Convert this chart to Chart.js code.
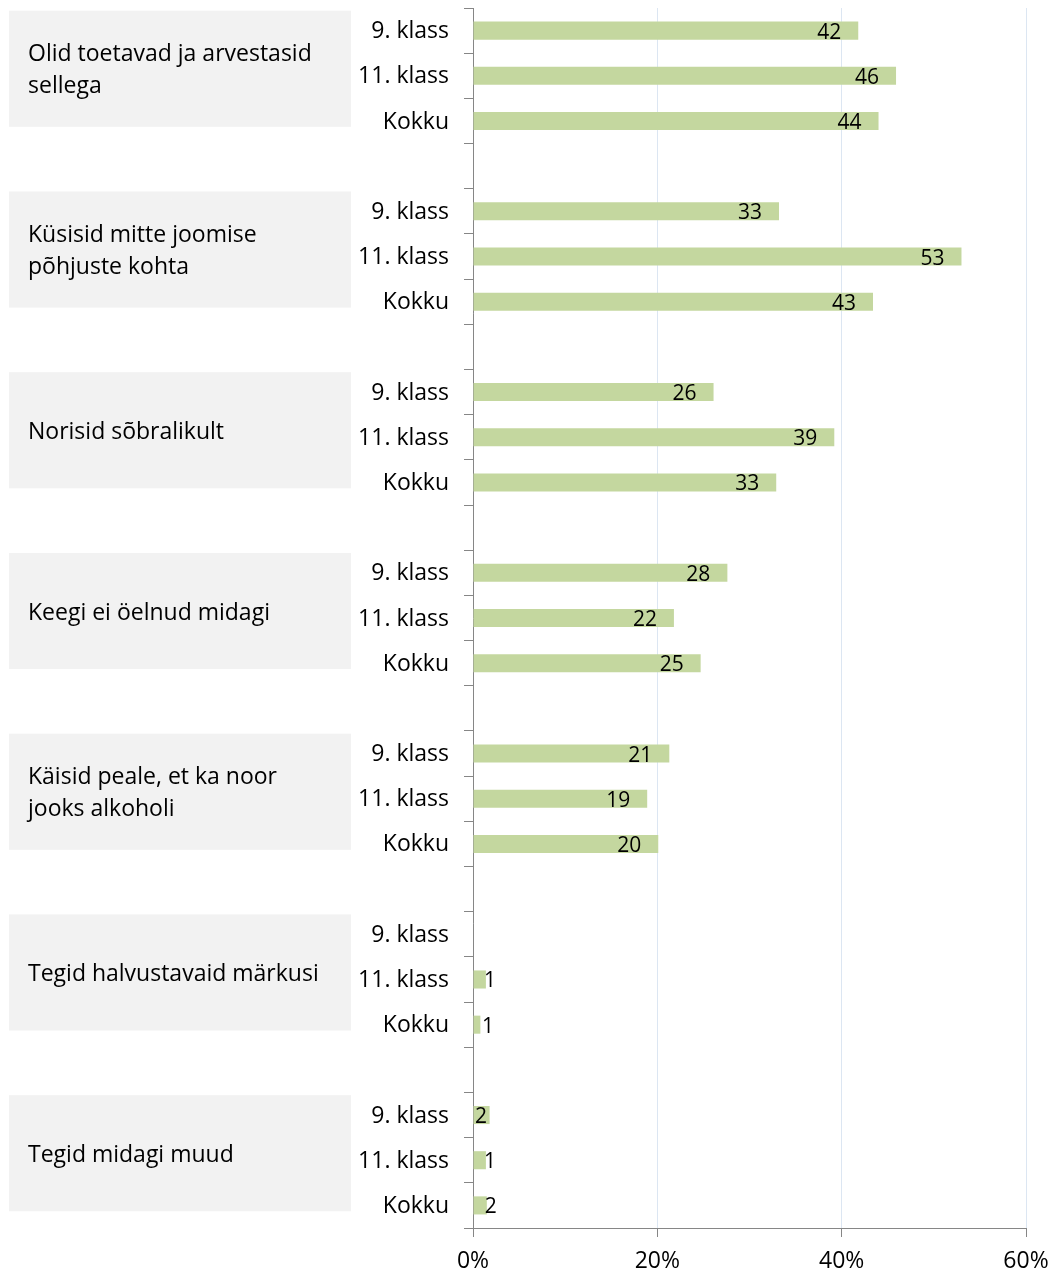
<!DOCTYPE html>
<html>
<head>
<meta charset="utf-8">
<script src="https://cdn.jsdelivr.net/npm/chart.js@4.4.0/dist/chart.umd.min.js"></script>
<style>
  body { margin: 0; background: #fff; }
  #wrap { width: 1054px; height: 1275px; }
</style>
</head>
<body>
<div id="wrap"><canvas id="chart" width="1054" height="1275"></canvas></div>
<script>
// --- data ---
const groups = [
  ['Olid toetavad ja arvestasid', 'sellega'],
  ['Küsisid mitte joomise', 'põhjuste kohta'],
  ['Norisid sõbralikult'],
  ['Keegi ei öelnud midagi'],
  ['Käisid peale, et ka noor', 'jooks alkoholi'],
  ['Tegid halvustavaid märkusi'],
  ['Tegid midagi muud']
];
const rowLabels = ['9. klass', '11. klass', 'Kokku'];
const klass9  = [41.8, 33.2, 26.1, 27.6, 21.3, null, 1.8];
const klass11 = [45.9, 53.0, 39.2, 21.8, 18.9, 1.4, 1.4];
const kokku   = [44.0, 43.4, 32.9, 24.7, 20.1, 0.8, 1.5];
const xTicks  = [0, 20, 40, 60];

const FONT = '"Open Sans", Lato, sans-serif';
const BAR = '#c4d79f';
const AXIS = '#868686';

// rows: 3 per group + a blank spacer between groups
let labels = [];
let values = [];
let groupRows = []; // index of the middle row of each group
groups.forEach((g, i) => {
  const series = [klass9[i], klass11[i], kokku[i]];
  groupRows.push(labels.length + 1);
  rowLabels.forEach((r, k) => {
    labels.push(r);
    values.push(series[k]);
  });
  if (i < groups.length - 1) {
    labels.push('');
    values.push(null);
  }
});

// grey boxes with the question text on the left
const groupBoxes = {
  id: 'groupBoxes',
  beforeDraw(chart) {
    const ctx = chart.ctx;
    const y = chart.scales.y;
    const slot = Math.abs(y.getPixelForValue(1) - y.getPixelForValue(0));
    ctx.save();
    groupRows.forEach((row, i) => {
      const c = y.getPixelForValue(row);
      const top = c - slot * 1.44;
      const bottom = c + slot * 1.13;
      ctx.fillStyle = '#f2f2f2';
      ctx.fillRect(9, top, 342, bottom - top);
      ctx.fillStyle = '#000';
      ctx.font = '23px ' + FONT;
      ctx.textAlign = 'left';
      ctx.textBaseline = 'middle';
      const lines = groups[i];
      const lh = 32;
      const mid = (top + bottom) / 2 + 2;
      lines.forEach((t, k) => {
        ctx.fillText(t, 28, mid + (k - (lines.length - 1) / 2) * lh);
      });
    });
    ctx.restore();
  }
};

// value labels at the bar ends
const barLabels = {
  id: 'barLabels',
  afterDatasetsDraw(chart) {
    const ctx = chart.ctx;
    const meta = chart.getDatasetMeta(0);
    const x0 = chart.scales.x.getPixelForValue(0);
    ctx.save();
    ctx.fillStyle = '#000';
    ctx.font = '21px ' + FONT;
    ctx.textBaseline = 'middle';
    meta.data.forEach((bar, i) => {
      const v = values[i];
      if (v === null) return;
      const txt = String(Math.round(v));
      const w = ctx.measureText(txt).width;
      if (bar.x - x0 >= w + 20) {
        ctx.textAlign = 'right';
        ctx.fillText(txt, bar.x - 17, bar.y + 2);
      } else if (bar.x - x0 >= w + 3) {
        ctx.textAlign = 'left';
        ctx.fillText(txt, x0 + 2, bar.y + 2);
      } else {
        ctx.textAlign = 'left';
        ctx.fillText(txt, Math.max(bar.x - 2, x0 + 9), bar.y + 2);
      }
    });
    ctx.restore();
  }
};

new Chart(document.getElementById('chart'), {
  type: 'bar',
  data: {
    labels: labels,
    datasets: [{
      data: values,
      backgroundColor: BAR,
      borderWidth: 0,
      categoryPercentage: 1,
      barPercentage: 0.4
    }]
  },
  options: {
    indexAxis: 'y',
    responsive: false,
    animation: false,
    layout: { padding: { left: 0, right: 28, top: 8, bottom: 0 } },
    plugins: {
      legend: { display: false },
      tooltip: { enabled: false }
    },
    scales: {
      x: {
        min: 0,
        max: 60,
        afterBuildTicks: (s) => { s.ticks = xTicks.map(v => ({ value: v })); },
        afterFit: (s) => { s.height = 47; s.paddingLeft = 0; s.paddingRight = 0; },
        ticks: {
          callback: (v) => v + '%',
          color: '#000',
          font: { family: FONT, size: 23 },
          padding: 11
        },
        grid: { color: '#dce6f2', tickColor: AXIS, tickLength: 9, lineWidth: 1 },
        border: { color: AXIS, width: 1 }
      },
      y: {
        afterFit: (s) => { s.width = 473; s.paddingTop = 0; s.paddingBottom = 0; },
        ticks: {
          color: '#000',
          font: { family: FONT, size: 23 },
          padding: 15,
          labelOffset: 1,
          autoSkip: false
        },
        grid: { drawOnChartArea: false, color: AXIS, tickLength: 9, offset: true },
        border: { color: AXIS, width: 1 }
      }
    }
  },
  plugins: [groupBoxes, barLabels]
});
</script>
</body>
</html>
